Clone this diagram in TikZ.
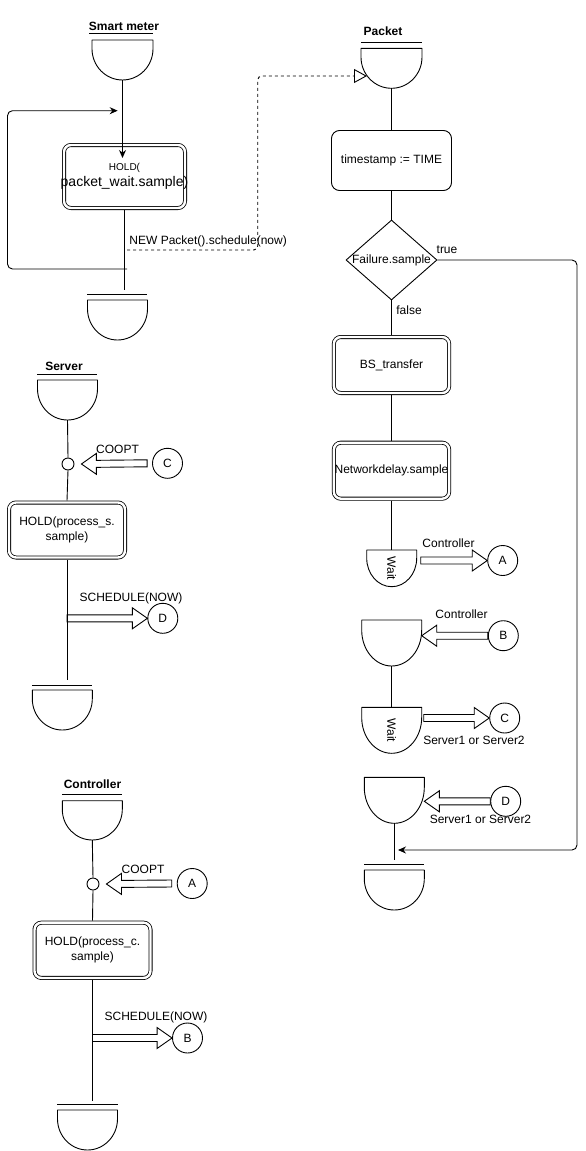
\documentclass[tikz,border=0pt]{standalone}
\usepackage{fontspec}
\usepackage{graphicx}
\setmainfont{Liberation Sans}
\usetikzlibrary{shapes.geometric,arrows.meta,calc}

\newcommand\myfs{\fontsize{12pt}{15pt}\selectfont}

% delay (wait) shape: name, centre x, top y, width, height, text
\newcommand\dly[6]{%
  \node[dlynode, minimum width=#4pt, minimum height=#5pt] (#1) at (#2,{#3+#5/2}) {#6};
  \draw[dlyline] (#1.north west) -- ++(0pt,{-0.22*#5pt})
     arc[start angle=180, end angle=360, x radius={0.5*#4pt}, y radius={0.78*#5pt}]
     -- (#1.north east) -- cycle;
}

% hollow block arrow from #1 to #2 (horizontal)
\newcommand\harrow[2]{%
  \coordinate (hb) at ($(#2)!15pt!(#1)$);
  \draw[hollow] ($(#1)+(0pt,3.5pt)$) -- ($(hb)+(0pt,3.5pt)$) -- ($(hb)+(0pt,10.5pt)$)
     -- (#2) -- ($(hb)+(0pt,-10.5pt)$) -- ($(hb)+(0pt,-3.5pt)$) -- ($(#1)+(0pt,-3.5pt)$) -- cycle;
}

\tikzset{
  dlynode/.style={inner sep=0pt, outer sep=0pt},
  dlyline/.style={line join=round},
  dbox/.style={draw, double, double distance=2.4pt, line width=0.8pt, rounded corners=7pt,
               align=center, inner sep=1pt, outer sep=2pt},
  sbox/.style={draw, rounded corners=8pt, align=center},
  circ/.style={draw, circle, minimum size=30pt, inner sep=0pt},
  smallc/.style={draw, circle, minimum size=12pt, inner sep=0pt},
  ttl/.style={font=\myfs\bfseries, inner sep=0pt},
  lbl/.style={inner sep=0pt},
  ttlbar/.style={line width=0.9pt},
  hollow/.style={line join=miter},
  arr/.style={-{Stealth[length=8pt,width=7pt]}},
  dashline/.style={dash pattern=on 3pt off 3pt},
}

\begin{document}
\begin{tikzpicture}[x=1pt,y=-1pt,font=\myfs,line width=0.9pt]
\useasboundingbox (0,0) rectangle (586,1151);

% ---------------- Smart meter ----------------
\node[ttl] (smT) at (124,26) {Smart meter};
\draw[ttlbar] (89,33.5) -- (153,33.5);
\dly{sm1}{122.5}{40}{61}{40}{}
\node[dbox, minimum width=121pt, minimum height=63pt] (hold1) at (124.5,176.5)
  {{\fontsize{10pt}{12pt}\selectfont HOLD(}\\[1pt]
   \makebox[110pt]{\fontsize{14pt}{16pt}\selectfont packet\_wait.sample)}};
\coordinate (smIn) at (122.5,158);
\draw[arr] (sm1.south) -- (smIn);
\coordinate (smL) at (124.5,290);
\draw (hold1.south) -- (smL);
\coordinate (loopS) at (127,269);
\coordinate (loopE) at (117.7,110.7);
\draw[arr, rounded corners=5pt] (loopS) -- (7.5,269) -- (7.5,110.7) -- (loopE);
\node[lbl, anchor=west] (newP) at (129,241) {NEW Packet().schedule(now)};
\draw[ttlbar] (87.3,294.3) -- (147.3,294.3);
\dly{smE}{117.5}{300}{60}{40}{}

% ---------------- Packet ----------------
\node[ttl] (pkT) at (383,31) {Packet};
\draw[ttlbar] (361,42.3) -- (422,42.3);
\dly{pk1}{391.5}{48.3}{61}{40}{}
\coordinate (dashS) at (127,250);
\coordinate (pkIn) at (367,76);
\draw[dashline, rounded corners=4pt, -{Triangle[open,length=13pt,width=14pt]}]
  (dashS) -- (257.7,250) -- (257.7,76) -- (pkIn);

\node[sbox, minimum width=120pt, minimum height=60pt] (ts) at (391.5,160.5) {timestamp := TIME};
\node[draw, diamond, minimum width=91pt, minimum height=80pt, inner sep=0pt,
      label=center:{Failure.sample}] (dia) at (391.5,260) {};
\node[lbl] (tru) at (447,249.5) {true};
\node[lbl] (fls) at (409,310) {false};
\node[dbox, minimum width=115.3pt, minimum height=56pt] (bs) at (391.5,365) {BS\_transfer};
\node[dbox, minimum width=115.3pt, minimum height=56pt] (nd) at (391.5,470.7)
  {\makebox[100pt]{Networkdelay.sample}};
\dly{w1}{391.7}{550}{50}{36.7}{\rotatebox{-90}{Wait}}
\node[circ] (cA) at (502.7,560.5) {A};
\node[lbl] (ctlA) at (448.5,543) {Controller};
\dly{rB}{391.7}{620}{60}{46}{}
\node[circ] (cB) at (503.3,635.7) {B};
\node[lbl] (ctlB) at (461.5,614) {Controller};
\dly{w2}{391.7}{707.3}{60}{46}{\rotatebox{-90}{Wait}}
\node[circ] (cC) at (504.7,718) {C};
\node[lbl] (srvC) at (474,740) {Server1 or Server2};
\dly{rD}{394.3}{777.3}{60}{46}{}
\node[circ] (cD) at (505.7,801.3) {D};
\node[lbl] (srvD) at (480.5,819.5) {Server1 or Server2};
\coordinate (pkL) at (394.3,860);
\coordinate (trueE) at (398,850);
\draw[ttlbar] (364.3,864) -- (424.3,864);
\dly{pkE}{394.3}{870}{60}{40}{}

\draw (pk1.south) -- (ts.north);
\draw (ts.south) -- (dia.north);
\draw (dia.south) -- (bs.north);
\draw (bs.south) -- (nd.north);
\draw (nd.south) -- (nd.south |- w1.north);
\draw (rB.south) -- (w2.north);
\draw (rD.south) -- (pkL);
\draw[arr, rounded corners=5pt] (dia.east) -- (577,260) -- (577,850) -- (trueE);

\coordinate (aAs) at ($(cA.west -| w1.east)+(4pt,0pt)$);
\harrow{aAs}{cA.west}
\coordinate (aBt) at (cB.west -| rB.east);
\harrow{cB.west}{aBt}
\coordinate (aCs) at ($(cC.west -| w2.east)+(2pt,0pt)$);
\harrow{aCs}{cC.west}
\coordinate (aDt) at (cD.west -| rD.east);
\harrow{cD.west}{aDt}

% ---------------- Server ----------------
\node[ttl] (svT) at (64,366) {Server};
\draw[ttlbar] (37.3,374.7) -- (97.3,374.7);
\dly{sv1}{67.5}{380}{60}{40}{}
\node[smallc] (svc) at (68,464) {};
\node[circ] (cC2) at (167.5,463.3) {C};
\node[lbl] (coS) at (117.5,449) {COOPT};
\node[dbox, minimum width=116pt, minimum height=55pt] (svh) at (67,530) {HOLD(process\_s.\\sample)};
\coordinate (svL) at (67,680);
\node[circ] (cD2) at (162.8,618.3) {D};
\node[lbl] (scS) at (131,598) {SCHEDULE(NOW)};
\draw[ttlbar] (32.3,685) -- (92.3,685);
\dly{svE}{62.3}{690}{60}{40}{}

\draw (sv1.south) -- (svc.north);
\draw (svc.south) -- (svh.north);
\draw (svh.south) -- (svL);
\coordinate (cCs) at ($(cC2.west)+(-5pt,0pt)$);
\coordinate (svct) at ($(svc.east)+(7pt,0pt)$);
\harrow{cCs}{svct}
\coordinate (scSs) at (cD2.west -| svh.south);
\harrow{scSs}{cD2.west}

% ---------------- Controller ----------------
\node[ttl] (ctT) at (92.5,784) {Controller};
\draw[ttlbar] (62.3,794) -- (122.3,794);
\dly{ct1}{92.3}{800.7}{60}{39.3}{}
\node[smallc] (ctc) at (93,884) {};
\node[circ] (cA2) at (192.2,883.5) {A};
\node[lbl] (coC) at (143,869) {COOPT};
\node[dbox, minimum width=116pt, minimum height=55.3pt] (cth) at (92.5,950.3) {HOLD(process\_c.\\sample)};
\coordinate (ctL) at (92.5,1101);
\node[circ] (cB2) at (187.5,1038) {B};
\node[lbl] (scC) at (156,1017) {SCHEDULE(NOW)};
\draw[ttlbar] (57,1104) -- (118,1104);
\dly{ctE}{87.5}{1110}{60}{40}{}

\draw (ct1.south) -- (ctc.north);
\draw (ctc.south) -- (cth.north);
\draw (cth.south) -- (ctL);
\coordinate (cAs) at ($(cA2.west)+(-5pt,0pt)$);
\coordinate (ctct) at ($(ctc.east)+(7pt,0pt)$);
\harrow{cAs}{ctct}
\coordinate (scCs) at (cB2.west -| cth.south);
\harrow{scCs}{cB2.west}

\end{tikzpicture}
\end{document}
